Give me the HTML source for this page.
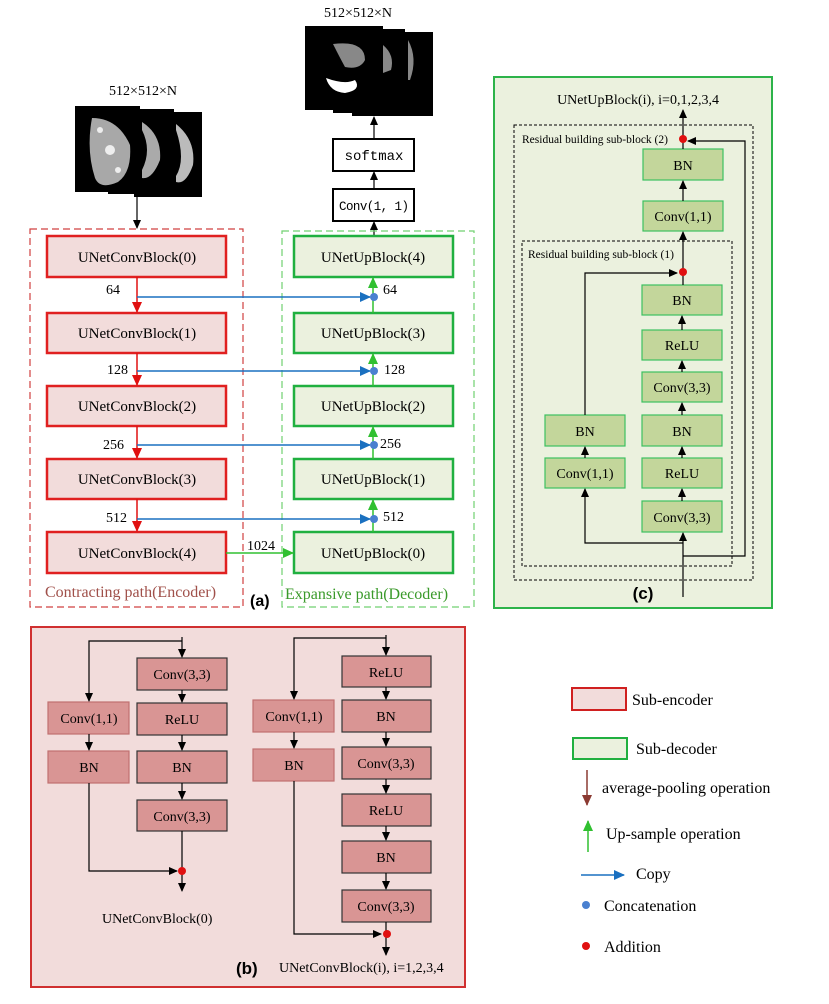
<!DOCTYPE html>
<html><head><meta charset="utf-8"><style>
body{margin:0;background:#fff}
svg{display:block;font-family:"Liberation Serif",serif}
</style></head><body>
<svg width="829" height="1004" viewBox="0 0 829 1004" xmlns="http://www.w3.org/2000/svg">
<defs>
<marker id="ak" markerWidth="10" markerHeight="10" refX="8" refY="5" orient="auto" markerUnits="userSpaceOnUse"><path d="M0,1 L9,5 L0,9 z" fill="#000"/></marker>
<marker id="ar" markerWidth="12" markerHeight="12" refX="10" refY="6" orient="auto" markerUnits="userSpaceOnUse"><path d="M0,1 L11,6 L0,11 z" fill="#e01010"/></marker>
<marker id="ag" markerWidth="12" markerHeight="12" refX="10" refY="6" orient="auto" markerUnits="userSpaceOnUse"><path d="M0,1 L11,6 L0,11 z" fill="#30c030"/></marker>
<marker id="ab" markerWidth="12" markerHeight="12" refX="10" refY="6" orient="auto" markerUnits="userSpaceOnUse"><path d="M0,1 L11,6 L0,11 z" fill="#1a70c0"/></marker>
<marker id="abr" markerWidth="12" markerHeight="12" refX="10" refY="6" orient="auto" markerUnits="userSpaceOnUse"><path d="M0,1 L11,6 L0,11 z" fill="#8b3a32"/></marker>
</defs>

<!-- input images -->
<text x="143" y="95" font-size="14" text-anchor="middle">512×512×N</text>
<rect x="134" y="112" width="68" height="85" fill="#000"/>
<path d="M176,124 Q196,140 193,165 Q186,185 176,182 L176,176 Q186,160 176,130z" fill="#bbb"/>
<rect x="108" y="109" width="66" height="85" fill="#000"/>
<path d="M142,122 Q162,135 160,160 Q152,180 142,178 L142,170 Q152,150 142,130z" fill="#aaa"/>
<rect x="75" y="106" width="65" height="86" fill="#000"/>
<path d="M92,118 Q118,118 130,145 Q132,172 118,182 Q100,190 95,178 Q86,150 92,118z" fill="#a8a8a8"/>
<circle cx="110" cy="150" r="5" fill="#eee"/><circle cx="100" cy="130" r="3" fill="#eee"/><circle cx="118" cy="170" r="3" fill="#eee"/>
<line x1="137" y1="197" x2="137" y2="228" stroke="#000" stroke-width="1.2" marker-end="url(#ak)"/>

<!-- output images -->
<text x="358" y="17" font-size="14" text-anchor="middle">512×512×N</text>
<rect x="352" y="32" width="81" height="84" fill="#000"/>
<path d="M408,40 Q418,58 410,80 L408,80z" fill="#888"/>
<rect x="333" y="29" width="72" height="84" fill="#000"/>
<path d="M383,45 Q395,55 391,70 L383,73z" fill="#888"/>
<rect x="305" y="26" width="78" height="84" fill="#000"/>
<path d="M333,44 Q365,40 365,60 Q360,70 345,67 Q340,58 333,44z" fill="#888"/>
<path d="M326,78 Q345,85 355,80 Q362,90 345,93 Q330,92 326,78z" fill="#fff"/>
<line x1="374" y1="139" x2="374" y2="117" stroke="#000" stroke-width="1.2" marker-end="url(#ak)"/>
<rect x="333" y="139" width="81" height="32" fill="#fff" stroke="#000" stroke-width="2"/>
<text x="374" y="160" font-size="14" text-anchor="middle" font-family="Liberation Mono,monospace">softmax</text>
<line x1="374" y1="189" x2="374" y2="172" stroke="#000" stroke-width="1.2" marker-end="url(#ak)"/>
<rect x="333" y="189" width="81" height="32" fill="#fff" stroke="#000" stroke-width="2"/>
<text x="374" y="210" font-size="12.5" text-anchor="middle" font-family="Liberation Mono,monospace" textLength="70">Conv(1, 1)</text>
<line x1="374" y1="236" x2="374" y2="222" stroke="#000" stroke-width="1.2" marker-end="url(#ak)"/>

<!-- (a) dashed regions -->
<rect x="30" y="229" width="213" height="378" fill="none" stroke="#d04040" stroke-width="1.2" stroke-dasharray="7,4"/>
<rect x="282" y="231" width="192" height="376" fill="none" stroke="#70d070" stroke-width="1.2" stroke-dasharray="7,4"/>

<g font-size="15" text-anchor="middle">
<g fill="#f2dcdb" stroke="#e02020" stroke-width="2.5">
<rect x="47" y="236" width="179" height="41"/>
<rect x="47" y="313" width="179" height="40"/>
<rect x="47" y="386" width="179" height="40"/>
<rect x="47" y="459" width="179" height="40"/>
<rect x="47" y="532" width="179" height="41"/>
</g>
<g fill="#ebf1de" stroke="#20b040" stroke-width="2.5">
<rect x="294" y="236" width="159" height="41"/>
<rect x="294" y="313" width="159" height="40"/>
<rect x="294" y="386" width="159" height="40"/>
<rect x="294" y="459" width="159" height="40"/>
<rect x="294" y="532" width="159" height="41"/>
</g>
<text x="137" y="262">UNetConvBlock(0)</text>
<text x="137" y="338">UNetConvBlock(1)</text>
<text x="137" y="411">UNetConvBlock(2)</text>
<text x="137" y="484">UNetConvBlock(3)</text>
<text x="137" y="558">UNetConvBlock(4)</text>
<text x="373" y="262">UNetUpBlock(4)</text>
<text x="373" y="338">UNetUpBlock(3)</text>
<text x="373" y="411">UNetUpBlock(2)</text>
<text x="373" y="484">UNetUpBlock(1)</text>
<text x="373" y="558">UNetUpBlock(0)</text>
</g>
<g stroke="#e01010" stroke-width="1.5">
<line x1="137" y1="277" x2="137" y2="312" marker-end="url(#ar)"/>
<line x1="137" y1="353" x2="137" y2="385" marker-end="url(#ar)"/>
<line x1="137" y1="426" x2="137" y2="458" marker-end="url(#ar)"/>
<line x1="137" y1="499" x2="137" y2="531" marker-end="url(#ar)"/>
</g>
<g stroke="#30c030" stroke-width="1.5">
<line x1="373" y1="313" x2="373" y2="278" marker-end="url(#ag)"/>
<line x1="373" y1="386" x2="373" y2="354" marker-end="url(#ag)"/>
<line x1="373" y1="459" x2="373" y2="427" marker-end="url(#ag)"/>
<line x1="373" y1="532" x2="373" y2="500" marker-end="url(#ag)"/>
<line x1="226" y1="553" x2="293" y2="553" marker-end="url(#ag)"/>
</g>
<g stroke="#1a70c0" stroke-width="1.5">
<line x1="137" y1="297" x2="370" y2="297" marker-end="url(#ab)"/>
<line x1="137" y1="371" x2="370" y2="371" marker-end="url(#ab)"/>
<line x1="137" y1="445" x2="370" y2="445" marker-end="url(#ab)"/>
<line x1="137" y1="519" x2="370" y2="519" marker-end="url(#ab)"/>
</g>
<g fill="#4a80d0"><circle cx="374" cy="297" r="4"/><circle cx="374" cy="371" r="4"/><circle cx="374" cy="445" r="4"/><circle cx="374" cy="519" r="4"/></g>
<g font-size="14">
<text x="106" y="294">64</text><text x="107" y="374">128</text><text x="103" y="449">256</text><text x="106" y="522">512</text>
<text x="383" y="294">64</text><text x="384" y="374">128</text><text x="380" y="448">256</text><text x="383" y="521">512</text>
<text x="247" y="550">1024</text>
</g>
<text x="45" y="597" font-size="16" fill="#a0504a">Contracting path(Encoder)</text>
<text x="250" y="606" font-size="16" font-weight="bold" font-family="Liberation Sans,sans-serif">(a)</text>
<text x="285" y="599" font-size="16" fill="#3a9a2a">Expansive path(Decoder)</text>

<!-- (c) -->
<rect x="494" y="77" width="278" height="531" fill="#ebf1de" stroke="#2db34a" stroke-width="2"/>
<text x="638" y="104" font-size="14" text-anchor="middle">UNetUpBlock(i), i=0,1,2,3,4</text>
<rect x="514" y="125" width="239" height="455" fill="none" stroke="#000" stroke-dasharray="3,2"/>
<rect x="522" y="241" width="210" height="325" fill="none" stroke="#000" stroke-dasharray="3,2"/>
<text x="522" y="143" font-size="11.5">Residual building sub-block (2)</text>
<text x="528" y="258" font-size="11.5">Residual building sub-block (1)</text>
<g fill="#c3d69b" stroke="#3cc060" stroke-width="1.2">
<rect x="643" y="149" width="80" height="31"/><rect x="643" y="201" width="80" height="30"/>
<rect x="642" y="285" width="80" height="30"/><rect x="642" y="330" width="80" height="30"/>
<rect x="642" y="372" width="80" height="30"/><rect x="642" y="415" width="80" height="31"/>
<rect x="642" y="458" width="80" height="30"/><rect x="642" y="501" width="80" height="31"/>
<rect x="545" y="415" width="80" height="31"/><rect x="545" y="458" width="80" height="30"/>
</g>
<g font-size="14" text-anchor="middle">
<text x="683" y="170">BN</text><text x="683" y="221">Conv(1,1)</text>
<text x="682" y="305">BN</text><text x="682" y="350">ReLU</text><text x="682" y="392">Conv(3,3)</text>
<text x="682" y="436">BN</text><text x="682" y="478">ReLU</text><text x="682" y="522">Conv(3,3)</text>
<text x="585" y="436">BN</text><text x="585" y="478">Conv(1,1)</text>
</g>
<g stroke="#000" stroke-width="1.2" fill="none">
<line x1="683" y1="597" x2="683" y2="533" marker-end="url(#ak)"/>
<line x1="682" y1="501" x2="682" y2="489" marker-end="url(#ak)"/>
<line x1="682" y1="458" x2="682" y2="447" marker-end="url(#ak)"/>
<line x1="682" y1="415" x2="682" y2="403" marker-end="url(#ak)"/>
<line x1="682" y1="372" x2="682" y2="361" marker-end="url(#ak)"/>
<line x1="682" y1="330" x2="682" y2="316" marker-end="url(#ak)"/>
<line x1="683" y1="285" x2="683" y2="271"/>
<line x1="683" y1="271" x2="683" y2="232" marker-end="url(#ak)"/>
<line x1="683" y1="201" x2="683" y2="181" marker-end="url(#ak)"/>
<line x1="683" y1="149" x2="683" y2="139"/>
<line x1="683" y1="139" x2="683" y2="110" marker-end="url(#ak)"/>
<polyline points="683,543 585,543 585,489" marker-end="url(#ak)"/>
<line x1="585" y1="458" x2="585" y2="447" marker-end="url(#ak)"/>
<polyline points="585,415 585,273 677,273" marker-end="url(#ak)"/>
<polyline points="683,556 745,556 745,141 688,141" marker-end="url(#ak)"/>
</g>
<circle cx="683" cy="139" r="4" fill="#e01010"/><circle cx="683" cy="272" r="4" fill="#e01010"/>
<text x="643" y="599" font-size="17" font-weight="bold" font-family="Liberation Sans,sans-serif" text-anchor="middle">(c)</text>

<!-- (b) -->
<rect x="31" y="627" width="434" height="360" fill="#f2dcdb" stroke="#d03030" stroke-width="2"/>
<g fill="#d99594" stroke="#333" stroke-width="1.2">
<rect x="137" y="658" width="90" height="32"/><rect x="137" y="703" width="90" height="32"/>
<rect x="137" y="751" width="90" height="32"/><rect x="137" y="800" width="90" height="31"/>
<rect x="342" y="656" width="89" height="31"/><rect x="342" y="700" width="89" height="32"/>
<rect x="342" y="747" width="89" height="32"/><rect x="342" y="794" width="89" height="32"/>
<rect x="342" y="841" width="89" height="32"/><rect x="342" y="890" width="89" height="32"/>
</g>
<g fill="#d99594" stroke="#c07070" stroke-width="1.2">
<rect x="48" y="702" width="81" height="32"/><rect x="48" y="751" width="81" height="32"/>
<rect x="253" y="700" width="81" height="32"/><rect x="253" y="749" width="81" height="32"/>
</g>
<g font-size="14" text-anchor="middle">
<text x="182" y="679">Conv(3,3)</text><text x="182" y="724">ReLU</text><text x="182" y="772">BN</text><text x="182" y="821">Conv(3,3)</text>
<text x="89" y="723">Conv(1,1)</text><text x="89" y="772">BN</text>
<text x="386" y="677">ReLU</text><text x="386" y="721">BN</text><text x="386" y="768">Conv(3,3)</text><text x="386" y="815">ReLU</text><text x="386" y="862">BN</text><text x="386" y="911">Conv(3,3)</text>
<text x="294" y="721">Conv(1,1)</text><text x="294" y="770">BN</text>
</g>
<g stroke="#000" stroke-width="1.2" fill="none">
<line x1="182" y1="637" x2="182" y2="657" marker-end="url(#ak)"/>
<polyline points="182,641 89,641 89,701" marker-end="url(#ak)"/>
<line x1="182" y1="690" x2="182" y2="702" marker-end="url(#ak)"/>
<line x1="182" y1="735" x2="182" y2="750" marker-end="url(#ak)"/>
<line x1="182" y1="783" x2="182" y2="799" marker-end="url(#ak)"/>
<line x1="89" y1="734" x2="89" y2="750" marker-end="url(#ak)"/>
<line x1="182" y1="831" x2="182" y2="871"/>
<polyline points="89,783 89,871 177,871" marker-end="url(#ak)"/>
<line x1="182" y1="871" x2="182" y2="891" marker-end="url(#ak)"/>
<line x1="386" y1="635" x2="386" y2="655" marker-end="url(#ak)"/>
<polyline points="386,638 294,638 294,699" marker-end="url(#ak)"/>
<line x1="386" y1="687" x2="386" y2="699" marker-end="url(#ak)"/>
<line x1="386" y1="732" x2="386" y2="746" marker-end="url(#ak)"/>
<line x1="386" y1="779" x2="386" y2="793" marker-end="url(#ak)"/>
<line x1="386" y1="826" x2="386" y2="840" marker-end="url(#ak)"/>
<line x1="386" y1="873" x2="386" y2="889" marker-end="url(#ak)"/>
<line x1="294" y1="732" x2="294" y2="748" marker-end="url(#ak)"/>
<line x1="386" y1="922" x2="386" y2="934"/>
<polyline points="294,781 294,934 381,934" marker-end="url(#ak)"/>
<line x1="386" y1="934" x2="386" y2="955" marker-end="url(#ak)"/>
</g>
<circle cx="182" cy="871" r="4" fill="#e01010"/><circle cx="387" cy="934" r="4" fill="#e01010"/>
<text x="102" y="923" font-size="14">UNetConvBlock(0)</text>
<text x="236" y="974" font-size="17" font-weight="bold" font-family="Liberation Sans,sans-serif">(b)</text>
<text x="279" y="972" font-size="14">UNetConvBlock(i), i=1,2,3,4</text>

<!-- legend -->
<rect x="572" y="688" width="54" height="22" fill="#f2dcdb" stroke="#d02020" stroke-width="2"/>
<text x="632" y="705" font-size="16">Sub-encoder</text>
<rect x="573" y="738" width="54" height="21" fill="#ebf1de" stroke="#20b040" stroke-width="2"/>
<text x="636" y="754" font-size="16">Sub-decoder</text>
<line x1="587" y1="770" x2="587" y2="805" stroke="#8b3a32" stroke-width="1.5" marker-end="url(#abr)"/>
<text x="602" y="793" font-size="16">average-pooling operation</text>
<line x1="588" y1="852" x2="588" y2="821" stroke="#30c030" stroke-width="1.5" marker-end="url(#ag)"/>
<text x="606" y="839" font-size="16">Up-sample operation</text>
<line x1="581" y1="875" x2="624" y2="875" stroke="#1a70c0" stroke-width="1.5" marker-end="url(#ab)"/>
<text x="636" y="879" font-size="16">Copy</text>
<circle cx="586" cy="905" r="4" fill="#4a80d0"/>
<text x="604" y="911" font-size="16">Concatenation</text>
<circle cx="586" cy="946" r="4" fill="#e01010"/>
<text x="604" y="952" font-size="16">Addition</text>
</svg>
</body></html>
